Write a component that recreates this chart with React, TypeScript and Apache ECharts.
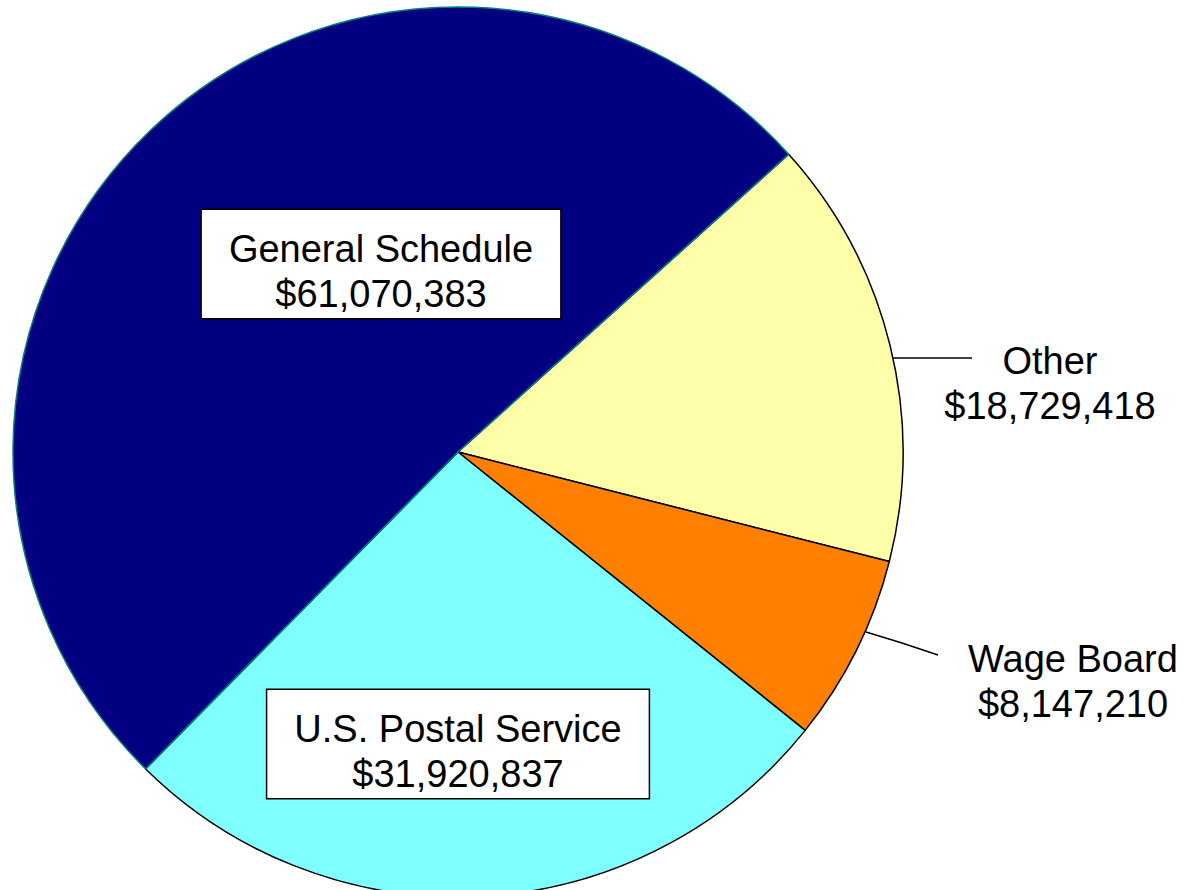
import React, { useEffect, useRef } from "react";
import * as echarts from "echarts";

const categories = ["Other", "Wage Board", "U.S. Postal Service", "General Schedule"];
const values = [18729418, 8147210, 31920837, 61070383];
const colors = ["#FFFFAA", "#FF8000", "#80FFFF", "#000080"];
const borderColors = ["#000000", "#000000", "#000000", "#008080"];
const boxed = [false, false, true, true];

// label layout positions (style only)
const labelPos: Record<number, any> = {
  0: { x: 1050, y: 383, line: [[893, 358], [932, 358], [972, 358]] },
  1: { x: 1073, y: 681, line: [[866, 632], [902, 643], [938, 655]] },
  2: { x: 458, y: 744 },
  3: { x: 381, y: 264 },
};

function fmt(v: number) {
  return "$" + v.toLocaleString("en-US");
}

export default function App() {
  const ref = useRef<HTMLDivElement>(null);
  useEffect(() => {
    document.body.style.margin = "0";
    const chart = echarts.init(ref.current!, null, { renderer: "svg" });
    chart.setOption({
      animation: false,
      backgroundColor: "#ffffff",
      series: [
        {
          type: "pie",
          center: [458, 452],
          radius: 445,
          startAngle: 42,
          clockwise: true,
          avoidLabelOverlap: false,
          data: categories.map((name, i) => ({
            name,
            value: values[i],
            itemStyle: { color: colors[i], borderColor: borderColors[i], borderWidth: 1.5 },
            label: boxed[i]
              ? {
                  formatter: (p: any) => "{t|" + p.name + "}\n{t|" + fmt(p.value) + "}",
                  backgroundColor: "#ffffff",
                  borderColor: "#000000",
                  borderWidth: 1.5,
                  padding: [9, 27, 9, 27],
                  rich: {
                    t: {
                      fontFamily: "'Liberation Sans', Arial, sans-serif",
                      fontSize: 38,
                      lineHeight: 45,
                      color: "#000000",
                      padding: [14, 0, 0, 0],
                    },
                  },
                }
              : {},
            labelLine: { show: !boxed[i] },
          })),
          label: {
            show: true,
            formatter: (p: any) => p.name + "\n" + fmt(p.value),
            fontFamily: "'Liberation Sans', Arial, sans-serif",
            fontSize: 38,
            lineHeight: 45,
            color: "#000000",
            align: "center",
          },
          labelLine: { show: true, lineStyle: { color: "#000000", width: 1.5 } },
          labelLayout: (params: any) => {
            const p = labelPos[params.dataIndex];
            const out: any = { x: p.x, y: p.y, align: "center", verticalAlign: "middle" };
            if (p.line) out.labelLinePoints = p.line;
            return out;
          },
          emphasis: { disabled: true },
        },
      ],
    });
    return () => chart.dispose();
  }, []);
  return <div ref={ref} style={{ width: 1185, height: 890 }} />;
}
